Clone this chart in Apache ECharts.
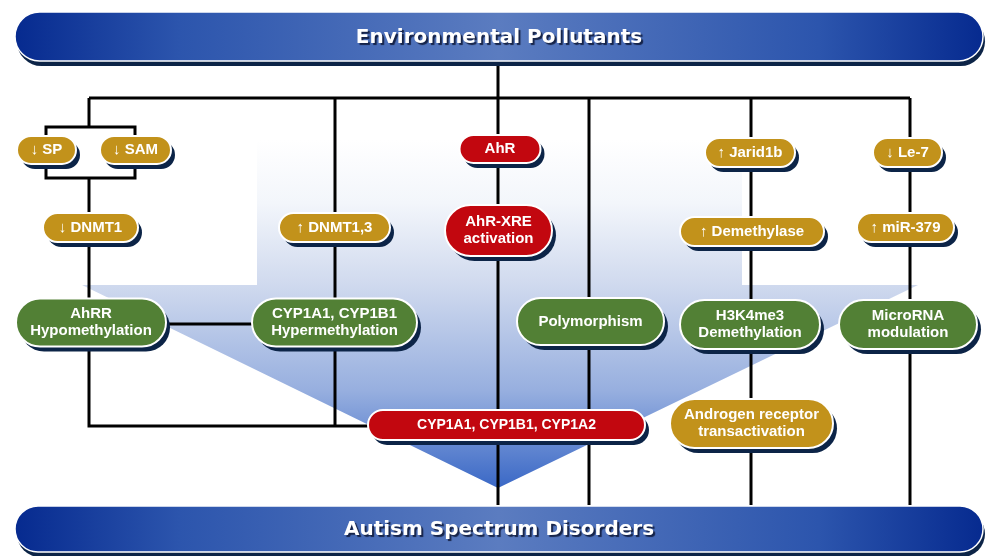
<!DOCTYPE html>
<html><head><meta charset="utf-8">
<script src="https://cdn.jsdelivr.net/npm/echarts@6/dist/echarts.min.js"></script>
<style>html,body{margin:0;padding:0;background:#fff}#c{width:987px;height:556px}</style>
</head><body><div id="c"></div>
<script>
// ---- diagram content ----
const nodeLabels = ['Environmental Pollutants','Autism Spectrum Disorders','↓ SP','↓ SAM','↓ DNMT1','↑ DNMT1,3','AhR','AhR-XRE\nactivation','↑ Jarid1b','↓ Le-7','↑ Demethylase','↑ miR-379','AhRR\nHypomethylation','CYP1A1, CYP1B1\nHypermethylation','Polymorphism','H3K4me3\nDemethylation','MicroRNA\nmodulation','CYP1A1, CYP1B1, CYP1A2','Androgen receptor\ntransactivation'];
const nodeTypes = ['banner','banner','gold','gold','gold','gold','red','red','gold','gold','gold','gold','green','green','green','green','green','red','gold'];

// ---- layout (diagram units) ----
const nodeX = [499,499,46.5,135.5,90.5,334.5,500,498.5,750,907.5,752,905.5,91,334.5,590.5,750,908,506.5,751.5];
const nodeY = [36.5,529,150,150,227.5,227.5,149,230.5,152.5,152.5,231.5,227.5,322.5,322.5,321.5,324.5,324.5,425,423.5];
const nodeW = [968,968,59,71,95,111,81,107,90,69,144,97,150,165,147,140,138,277,163];
const nodeH = [49,46,28,28,29,29,28,51,29,29,29,29,48,48,47,49,49,30,49];
const connectors = [
  [[498,60],[498,505]],
  [[89,98],[910,98]],
  [[89,98],[89,127]],
  [[46,140],[46,127],[135,127],[135,140]],
  [[46,160],[46,178],[135,178],[135,160]],
  [[89,178],[89,300]],
  [[89,340],[89,426],[372,426]],
  [[335,98],[335,426]],
  [[160,324],[256,324]],
  [[589,98],[589,505]],
  [[751,98],[751,505]],
  [[910,98],[910,505]]
];
const funnel = [[257,140],[742,140],[742,285],[918,285],[498,488],[82,285],[257,285]];

// ---- styles ----
const palette = {gold:'#c2921b', red:'#c2070f', green:'#528035'};
const shadowColor = '#0c2447';

const chart = echarts.init(document.getElementById('c'), null, {renderer:'canvas'});

function renderFunnel(params, api){
  const pts = funnel.map(p => api.coord(p));
  return {
    type:'polygon', shape:{points:pts},
    style:{fill:new echarts.graphic.LinearGradient(0,0,0,1,[
      {offset:0,color:'#ffffff'},
      {offset:0.18,color:'#f3f6fb'},
      {offset:0.42,color:'#cfd9ee'},
      {offset:0.72,color:'#97afdf'},
      {offset:1,color:'#3a68c6'}
    ])}
  };
}

function renderNode(params, api){
  const i = api.value(4);
  const c = api.coord([api.value(0), api.value(1)]);
  const s = api.size([api.value(2), api.value(3)]);
  const w = Math.abs(s[0]), h = Math.abs(s[1]);
  const x = c[0]-w/2, y = c[1]-h/2;
  const type = nodeTypes[i];
  const banner = type === 'banner';
  const fill = banner ? new echarts.graphic.LinearGradient(0,0,1,0,[
      {offset:0,color:'#062a8f'},
      {offset:0.17,color:'#2c55ad'},
      {offset:0.5,color:'#5b7cc0'},
      {offset:0.83,color:'#2c55ad'},
      {offset:1,color:'#062a8f'}
    ]) : palette[type];
  const text = {
    type:'text',
    style:{
      text:nodeLabels[i], x:c[0], y:c[1] + (banner ? 1 : 0),
      align:'center', verticalAlign:'middle',
      fill:'#ffffff',
      fontFamily: banner ? '"DejaVu Sans"' : '"Liberation Sans", Arial, sans-serif',
      fontWeight:'bold',
      fontSize: banner ? 20 : (i === 17 ? 14 : 15),
      lineHeight: banner ? 24 : 17,
      textShadowColor: banner ? 'rgba(10,20,50,0.85)' : 'rgba(0,0,0,0.15)',
      textShadowOffsetX: banner ? 2 : 1, textShadowOffsetY: banner ? 2 : 1,
      textShadowBlur: banner ? 1 : 0
    }
  };
  return {type:'group', children:[
    {type:'rect', shape:{x:x+(banner?2:4), y:y+5, width:w, height:h, r:h/2}, style:{fill:shadowColor}},
    {type:'rect', shape:{x:x, y:y, width:w, height:h, r:h/2}, style:{fill:fill, stroke:'#ffffff', lineWidth: banner ? 1.5 : 2}},
    text
  ]};
}

chart.setOption({
  animation:false,
  backgroundColor:'#ffffff',
  grid:{left:0,right:0,top:0,bottom:0},
  xAxis:{type:'value',min:0,max:987,show:false},
  yAxis:{type:'value',min:0,max:556,inverse:true,show:false},
  series:[
    {type:'custom', z:1, silent:true, renderItem:renderFunnel, data:[[0]]},
    {type:'lines', z:2, silent:true, coordinateSystem:'cartesian2d', polyline:true,
     lineStyle:{color:'#000000', width:3, opacity:1},
     data:connectors.map(c => ({coords:c}))},
    {type:'custom', z:3, silent:true, renderItem:renderNode,
     data:nodeLabels.map((_, i) => [nodeX[i], nodeY[i], nodeW[i], nodeH[i], i])}
  ]
});
</script>
</body></html>
